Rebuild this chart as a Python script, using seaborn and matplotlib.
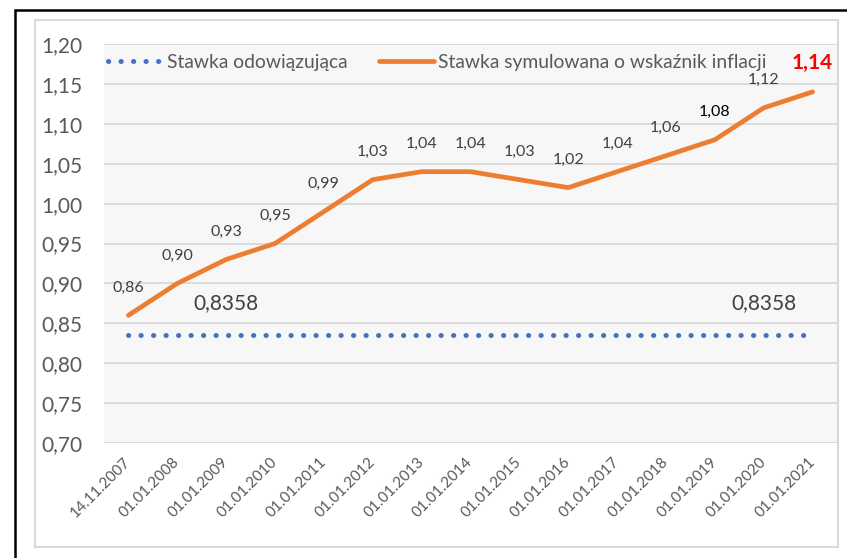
import matplotlib
matplotlib.use("Agg")
import matplotlib.pyplot as plt
from matplotlib.lines import Line2D
from matplotlib.patches import Rectangle
import seaborn as sns
import pandas as pd

dates = ["14.11.2007", "01.01.2008", "01.01.2009", "01.01.2010", "01.01.2011",
         "01.01.2012", "01.01.2013", "01.01.2014", "01.01.2015", "01.01.2016",
         "01.01.2017", "01.01.2018", "01.01.2019", "01.01.2020", "01.01.2021"]
simulated = [0.86, 0.90, 0.93, 0.95, 0.99, 1.03, 1.04, 1.04, 1.03, 1.02,
             1.04, 1.06, 1.08, 1.12, 1.14]
current_rate = 0.8358
current = [current_rate] * len(dates)
current_label_idx = [2, 13]
yticks = [0.70, 0.75, 0.80, 0.85, 0.90, 0.95, 1.00, 1.05, 1.10, 1.15, 1.20]

name_current = "Stawka odowiązująca"
name_sim = "Stawka symulowana o wskaźnik inflacji"

df = pd.DataFrame({"pos": range(len(dates)), "data": dates,
                   "current": current, "simulated": simulated})

sns.set_style("white")
plt.rcParams["font.family"] = ["Lato", "DejaVu Sans"]

BLUE = "#4472C4"
ORANGE = "#ED7D31"
TXT = "#595959"
DOTS = (0, (0.05, 2.45))

fig = plt.figure(figsize=(8.47, 5.58), dpi=100)
ax = fig.add_axes([104 / 847, 1 - 443 / 558, 733 / 847, 399 / 558])
ax.set_facecolor("#f7f7f7")

sns.lineplot(data=df, x="pos", y="current", ax=ax, color=BLUE, lw=3.6,
             linestyle=DOTS, dash_capstyle="round", label=name_current)
sns.lineplot(data=df, x="pos", y="simulated", ax=ax, color=ORANGE, lw=3.4,
             solid_capstyle="round", solid_joinstyle="round", label=name_sim)

ax.set_xlim(-0.5, len(dates) - 0.5)
ax.set_ylim(0.70, 1.20)
ax.set_yticks(yticks)
ax.set_yticklabels([f"{v:.2f}".replace(".", ",") for v in yticks],
                   fontsize=15, color=TXT)
ax.set_xticks(range(len(dates)))
ax.set_xticklabels(dates, rotation=45, ha="right", va="center",
                   rotation_mode="anchor", fontsize=11, color=TXT)
ax.tick_params(axis="x", pad=12, length=0)
ax.tick_params(axis="y", pad=15.5, length=0)
ax.set_xlabel("")
ax.set_ylabel("")
for s in ax.spines.values():
    s.set_visible(False)
ax.grid(axis="y", color="#d9d9d9", lw=1.3)
ax.set_axisbelow(True)

# value labels over the orange line
for i, v in enumerate(simulated):
    txt = f"{v:.2f}".replace(".", ",")
    if i == len(simulated) - 1:
        ax.annotate(txt, (i, v), xytext=(0, 21), textcoords="offset points",
                    ha="center", va="center", fontsize=15, fontweight="bold",
                    color="#FF0000")
    else:
        ax.annotate(txt, (i, v), xytext=(0, 20), textcoords="offset points",
                    ha="center", va="center", fontsize=11.5,
                    color="black" if i == 12 else "#404040")

for i in current_label_idx:
    ax.annotate(f"{current_rate:.4f}".replace(".", ","), (i, current_rate),
                xytext=(0, 23), textcoords="offset points", ha="center",
                va="center", fontsize=15, color="#404040")

handles = [Line2D([], [], color=BLUE, lw=3.6, linestyle=DOTS,
                  dash_capstyle="round"),
           Line2D([], [], color=ORANGE, lw=3.4, solid_capstyle="round")]
ax.legend(handles, [name_current, name_sim], loc="upper left",
          bbox_to_anchor=(0.0, 0.985), ncol=2, frameon=False, fontsize=13.9,
          labelcolor=TXT, handlelength=2.85, handletextpad=0.2,
          columnspacing=1.65, borderaxespad=0, borderpad=0.2)

# chart frame and outer border
fig.add_artist(Rectangle((35 / 847, 1 - 547 / 558), 803 / 847, 527 / 558,
                         transform=fig.transFigure, fill=False,
                         edgecolor="#d9d9d9", lw=1.5))
fig.add_artist(Line2D([15 / 847, 15 / 847], [0, 1 - 10 / 558],
                      transform=fig.transFigure, color="black", lw=1.8))
fig.add_artist(Line2D([15 / 847, 1], [1 - 10 / 558, 1 - 10 / 558],
                      transform=fig.transFigure, color="black", lw=1.8))

fig.savefig("out.png", dpi=100)
